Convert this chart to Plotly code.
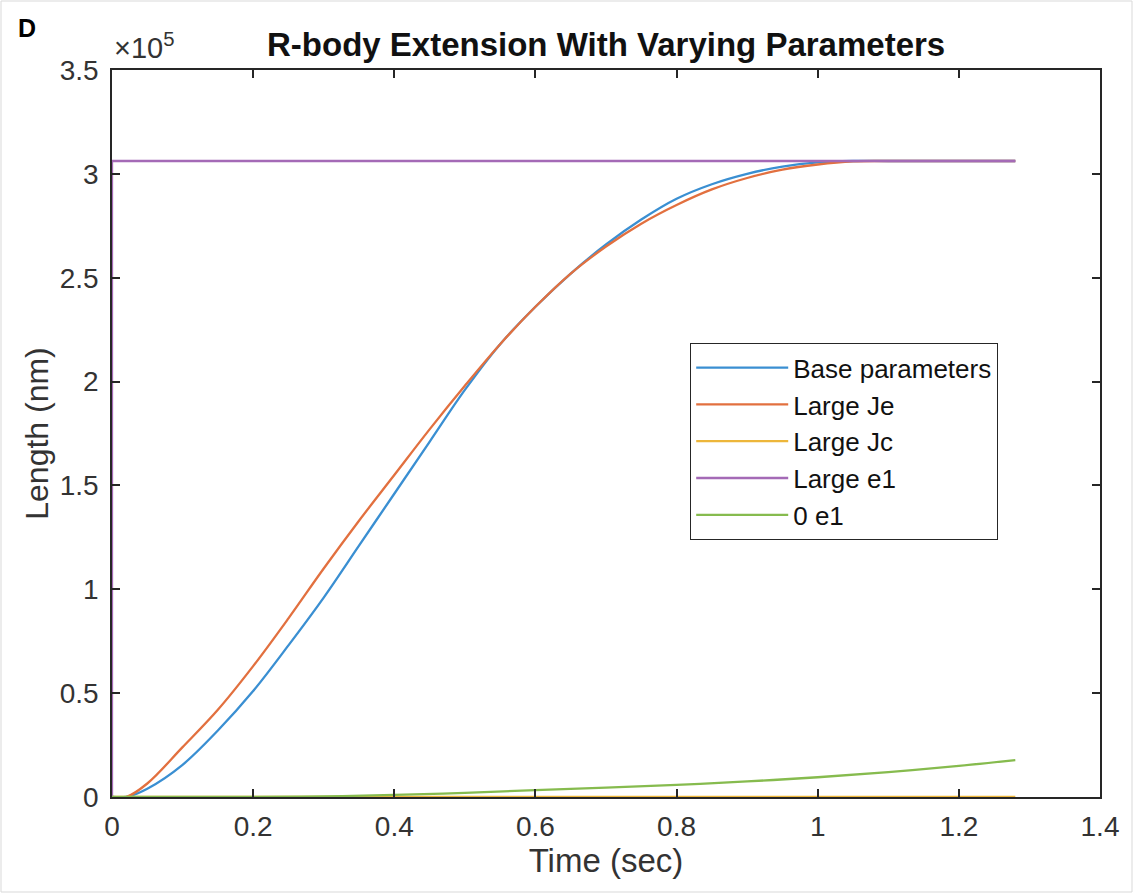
import plotly.graph_objects as go

# ---- data ----
t_base = [0, 0.02, 0.05, 0.1, 0.15, 0.2, 0.25, 0.3, 0.35, 0.4, 0.45, 0.5, 0.55, 0.6, 0.65,
          0.7, 0.75, 0.8, 0.85, 0.9, 0.95, 1.0, 1.05, 1.1, 1.28]
base_params = [0, 0, 4000, 15500, 32000, 51000, 73000, 96000, 121000, 146000, 171000, 196000,
               218000, 236000, 252000, 266000, 278000, 288000, 295000, 300000, 303500, 305500,
               306200, 306200, 306200]
large_je = [0, 0, 6500, 24000, 42000, 63000, 86000, 110000, 133000, 155000, 177000, 198000,
            218000, 236000, 252000, 265000, 276000, 285000, 292500, 298000, 302000, 304500,
            306000, 306200, 306200]

t_jc = [0, 1.28]
large_jc = [0, 0]

t_e1 = [0, 0, 1.28]
large_e1 = [0, 306200, 306200]

t_zero = [0, 0.2, 0.3, 0.4, 0.5, 0.6, 0.7, 0.8, 0.9, 1.0, 1.1, 1.2, 1.28]
zero_e1 = [0, 0, 300, 1000, 2000, 3300, 4500, 5800, 7500, 9500, 12000, 15000, 17800]

x_ticks = [0, 0.2, 0.4, 0.6, 0.8, 1, 1.2, 1.4]
x_tick_text = ["0", "0.2", "0.4", "0.6", "0.8", "1", "1.2", "1.4"]
y_ticks = [0, 50000, 100000, 150000, 200000, 250000, 300000, 350000]
y_tick_text = ["0", "0.5", "1", "1.5", "2", "2.5", "3", "3.5"]

series = [
    ("Base parameters", t_base, base_params, "#3A8FD2", True),
    ("Large Je", t_base, large_je, "#E2703F", True),
    ("Large Jc", t_jc, large_jc, "#EDB63A", False),
    ("Large e1", t_e1, large_e1, "#A46AB6", False),
    ("0 e1", t_zero, zero_e1, "#86BB4E", True),
]

FONT = "Liberation Sans, Arial, sans-serif"
AX = "#262626"
TXT = "#333333"

fig = go.Figure()
for name, x, y, c, smooth in series:
    line = dict(color=c, width=2.3)
    if smooth:
        line.update(shape="spline", smoothing=1.0)
    fig.add_trace(go.Scatter(x=x, y=y, mode="lines", name=name, line=line))

L, R, T, B = 112, 33, 70, 96
W, H = 1133, 893
pw = W - L - R
ph = H - T - B

axis_common = dict(showline=True, linecolor=AX, linewidth=1.5, mirror="ticks",
                   ticks="inside", ticklen=8, tickcolor=AX, tickwidth=1.5,
                   showgrid=False, zeroline=False,
                   tickfont=dict(family=FONT, size=28, color=TXT))

fig.update_layout(
    width=W, height=H,
    margin=dict(l=L, r=R, t=T, b=B),
    plot_bgcolor="white", paper_bgcolor="white",
    font=dict(family=FONT, color=AX),
    xaxis=dict(range=[0, 1.4], tickvals=x_ticks, ticktext=x_tick_text,
               ticklabelstandoff=4,
               title=dict(text="Time (sec)", font=dict(size=33, family=FONT, color=TXT),
                          standoff=2),
               **axis_common),
    yaxis=dict(range=[0, 350000], tickvals=y_ticks, ticktext=y_tick_text,
               ticklabelstandoff=6,
               title=dict(text="Length (nm)", font=dict(size=32, family=FONT, color=TXT),
                          standoff=2),
               **axis_common),
    legend=dict(x=(690 - L) / pw, y=(H - B - 343) / ph, xanchor="left", yanchor="top",
                bordercolor=AX, borderwidth=1.2, bgcolor="white",
                font=dict(family=FONT, size=26, color="#111111"),
                itemwidth=92, tracegroupgap=0),
    showlegend=True,
)

fig.add_annotation(text="<b>R-body Extension With Varying Parameters</b>",
                   xref="paper", yref="paper", x=0.5, y=(H - B - 45) / ph,
                   xanchor="center", yanchor="middle", showarrow=False,
                   font=dict(family=FONT, size=33, color="#111111"))
fig.add_annotation(text="<b>D</b>", xref="paper", yref="paper",
                   x=(16 - L) / pw, y=(H - B - 28) / ph, xanchor="left", yanchor="middle",
                   showarrow=False, font=dict(family=FONT, size=25, color="#000000"))
fig.add_annotation(text="×10<sup>5</sup>", xref="paper", yref="paper",
                   x=(112 - L) / pw, y=(H - B - 46) / ph, xanchor="left", yanchor="middle",
                   showarrow=False, font=dict(family=FONT, size=29, color=TXT))
# light outer frame of the image
fig.add_shape(type="rect", xref="paper", yref="paper",
              x0=(1 - L) / pw, x1=(W - 1 - L) / pw, y0=(H - B - (H - 1)) / ph, y1=(H - B - 1) / ph,
              line=dict(color="#d9d9d9", width=1))

fig.write_html("out.html")
